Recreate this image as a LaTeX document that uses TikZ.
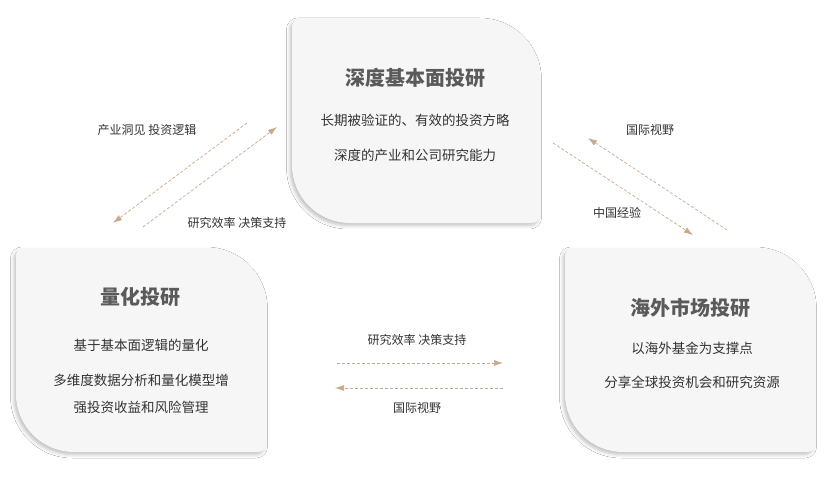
\documentclass[tikz,border=0pt]{standalone}
\usepackage{fontspec}
\setmainfont{Noto Sans CJK SC}
\usetikzlibrary{arrows.meta,shadows.blur}
\definecolor{cardfill}{HTML}{F6F6F6}
\definecolor{titlegray}{HTML}{5A5A5A}
\definecolor{bodygray}{HTML}{333333}
\definecolor{arrowtan}{HTML}{C9A98A}
\newcommand{\cardpath}[4]{% L B R T
  \fill[cardfill, blur shadow={shadow xshift=-2pt, shadow yshift=-2.5pt, shadow blur radius=3.5pt, shadow opacity=25}]
    ({#1+8},{#4}) -- ({#3-58},{#4}) arc[start angle=90, end angle=0, radius=58]
    -- ({#3},{#2+8}) arc[start angle=0, end angle=-90, radius=8]
    -- ({#1+58},{#2}) arc[start angle=270, end angle=180, radius=58]
    -- ({#1},{#4-8}) arc[start angle=180, end angle=90, radius=8] -- cycle;}
\tikzset{
  cardtitle/.style={font=\fontsize{20}{24}\selectfont\bfseries, text=titlegray, inner sep=0pt},
  cardtext/.style={font=\fontsize{13.5}{16}\selectfont, text=bodygray, inner sep=0pt},
  flowlabel/.style={font=\fontsize{12}{14}\selectfont, text=bodygray, inner sep=0pt},
  flowarrow/.style={draw=arrowtan, line width=0.7pt, dash pattern=on 3pt off 2pt, -{Latex[length=9pt,width=6pt]}}
}
\begin{document}
\begin{tikzpicture}[x=1pt,y=1pt]
\useasboundingbox (0,0) rectangle (830,483);
\fill[white] (0,0) rectangle (830,483);
% cards
\cardpath{292}{260}{540}{464}
\cardpath{16}{31}{266}{235}
\cardpath{565}{31}{815}{235}
% top card text
\node[cardtitle] (ttitle) at (415,405) {深度基本面投研};
\node[cardtext] (tl1) at (415,363) {长期被验证的、有效的投资方略};
\node[cardtext] (tl2) at (415,328) {深度的产业和公司研究能力};
% left card text
\node[cardtitle] (ltitle) at (140,186) {量化投研};
\node[cardtext] (ll1) at (141,138) {基于基本面逻辑的量化};
\node[cardtext] (ll2) at (141,103) {多维度数据分析和量化模型增};
\node[cardtext] (ll3) at (141,76) {强投资收益和风险管理};
% right card text
\node[cardtitle] (rtitle) at (690,175) {海外市场投研};
\node[cardtext] (rl1) at (692,135) {以海外基金为支撑点};
\node[cardtext] (rl2) at (692,101) {分享全球投资机会和研究资源};
% arrow endpoints
\coordinate (a1s) at (247,360); \coordinate (a1e) at (113,260);
\coordinate (a2s) at (143,256); \coordinate (a2e) at (277,356);
\coordinate (b1s) at (553,340); \coordinate (b1e) at (693,248);
\coordinate (b2s) at (727,253); \coordinate (b2e) at (588,345);
\coordinate (c1s) at (337,120); \coordinate (c1e) at (503,120);
\coordinate (c2s) at (503,95);  \coordinate (c2e) at (335,95);
\draw[flowarrow] (a1s) -- (a1e);
\draw[flowarrow] (a2s) -- (a2e);
\draw[flowarrow] (b1s) -- (b1e);
\draw[flowarrow] (b2s) -- (b2e);
\draw[flowarrow] (c1s) -- (c1e);
\draw[flowarrow] (c2s) -- (c2e);
% labels
\node[flowlabel] (la1) at (147,353) {产业洞见 投资逻辑};
\node[flowlabel] (la2) at (237,260) {研究效率 决策支持};
\node[flowlabel] (lb1) at (650,353) {国际视野};
\node[flowlabel] (lb2) at (617,270) {中国经验};
\node[flowlabel] (lc1) at (417,143) {研究效率 决策支持};
\node[flowlabel] (lc2) at (417,75) {国际视野};
\end{tikzpicture}
\end{document}
